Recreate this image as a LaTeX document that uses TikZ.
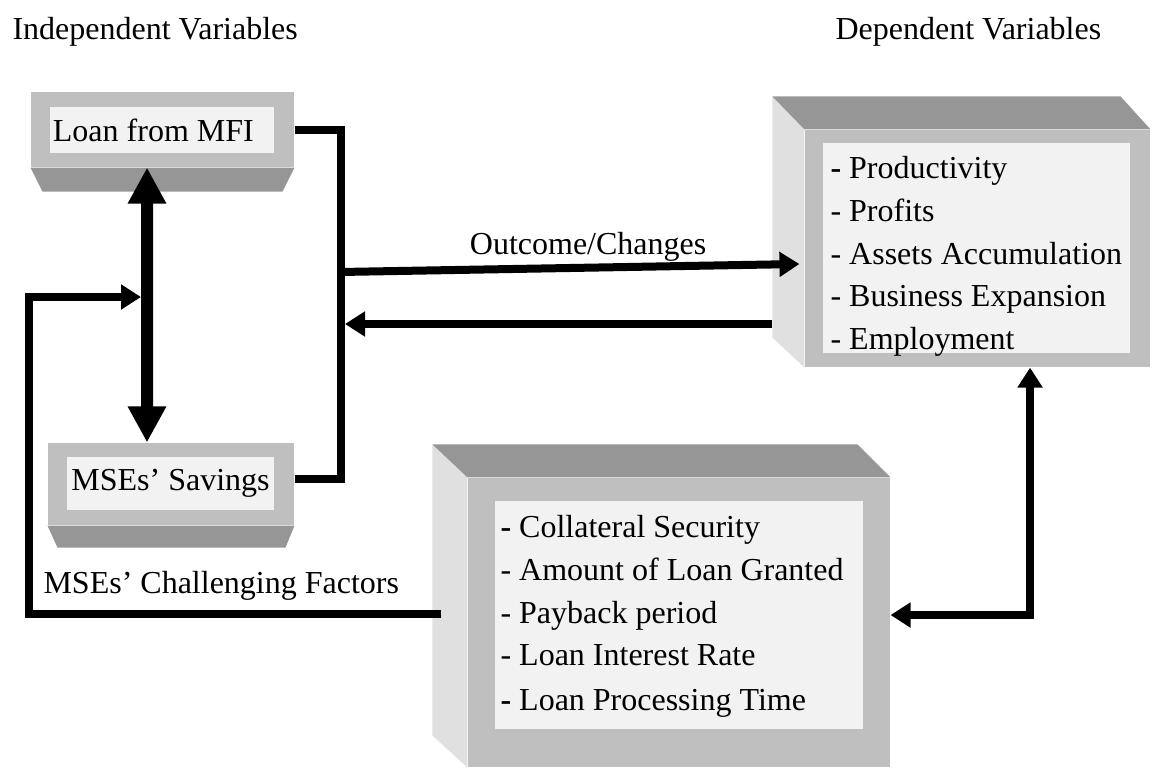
\documentclass[tikz,border=0pt]{standalone}
\usepackage{fontspec}
\setmainfont{Liberation Serif}
\usetikzlibrary{arrows.meta}
\definecolor{facegray}{gray}{0.75}
\definecolor{bevelgray}{gray}{0.59}
\definecolor{sidegray}{gray}{0.88}
\definecolor{panegray}{gray}{0.95}
\begin{document}
\begin{tikzpicture}[x=0.375pt,y=-0.375pt,
  every node/.style={inner sep=0pt,font=\fontsize{12}{16}\selectfont},
  face/.style={fill=facegray},
  pane/.style={fill=panegray},
  list/.style={align=left,anchor=north west},
  conn/.style={line width=3pt},
  heavy/.style={line width=4.5pt,>={Triangle[length=13.5pt,width=13.5pt]}},
  >={Triangle[length=7.5pt,width=9pt]}]
\useasboundingbox (0,0) rectangle (1151,767);
\node[anchor=west] (indep) at (12,32) {Independent Variables};
\node[anchor=west] (dep) at (835,32) {Dependent Variables};
% loan box
\node[face,minimum width=98.6pt,minimum height=28.1pt] (loanbox) at (162.5,129.5) {};
\fill[bevelgray] (loanbox.south west) -- (loanbox.south east) -- ++(-12,24) -- ([shift={(12,24)}]loanbox.south west) -- cycle;
\node[pane,minimum width=84pt,minimum height=17.25pt] (loanpane) at (162,130) {};
\node[anchor=west] (loan) at ([xshift=1.1pt]loanpane.west) {Loan from MFI};
% savings box
\node[face,minimum width=92.25pt,minimum height=30.75pt] (savebox) at (171,484) {};
\fill[bevelgray] (savebox.south west) -- (savebox.south east) -- ++(-9,22) -- ([shift={(10,22)}]savebox.south west) -- cycle;
\node[pane,minimum width=77.6pt,minimum height=19.9pt] (savepane) at (170.5,483.5) {};
\node (save) at (savepane) {MSEs’ Savings};
% dependent box
\node[face,minimum width=129.4pt,minimum height=88.9pt] (depbox) at (977.5,248.5) {};
\fill[sidegray] (depbox.north west) -- ++(-32,-33) -- ([shift={(-32,-30)}]depbox.south west) -- (depbox.south west) -- cycle;
\fill[bevelgray] (depbox.north west) -- ++(-32,-33) -- ([shift={(-30,-33)}]depbox.north east) -- (depbox.north east) -- cycle;
\node[pane,minimum width=115.1pt,minimum height=78.75pt] (deppane) at (976.5,248) {};
\node[list] (deplist) at (830,156) {\textbf{-} Productivity\\- Profits\\- Assets Accumulation\\- Business Expansion\\- Employment};
% challenges box
\node[face,minimum width=158.25pt,minimum height=108.4pt] (critbox) at (679,622.5) {};
\fill[sidegray] (critbox.north west) -- ++(-35,-33) -- ([shift={(-35,-32)}]critbox.south west) -- (critbox.south west) -- cycle;
\fill[bevelgray] (critbox.north west) -- ++(-35,-33) -- ([shift={(-33,-33)}]critbox.north east) -- (critbox.north east) -- cycle;
\node[pane,minimum width=138pt,minimum height=85.5pt] (critpane) at (679,615) {};
\node[list] (critlist) at (500,515) {\textbf{-} Collateral Security\\- Amount of Loan Granted\\- Payback period\\- Loan Interest Rate\\[0.8pt]\textbf{-} Loan Processing Time};
% connectors
\coordinate (fwd) at (340,272);
\coordinate (back) at (345,324);
\coordinate (loop) at (141,297);
\draw[conn] (loanbox.east) -- ++(46,0) |- ([yshift=1.9pt]savebox.east);
\draw[conn,->] (fwd) -- ([shift={(-5,15.5)}]depbox.west) node[pos=.54,above=1pt] (outcome) {Outcome/Changes};
\draw[conn,->] ([shift={(-32,75.5)}]depbox.west) -- (back);
\draw[heavy,<->] ([xshift=-5.8pt]loanbox.south) -- ([xshift=-9pt]savebox.north);
\draw[conn,->] ([shift={(-26,-8.5)}]critbox.west) -- ++(-412,0) |- (loop);
\node[anchor=west] (factors) at (43,586) {MSEs’ Challenging Factors};
\draw[conn,<->] ([xshift=19.7pt]depbox.south) |- ([yshift=2.8pt]critbox.east);
\end{tikzpicture}
\end{document}
